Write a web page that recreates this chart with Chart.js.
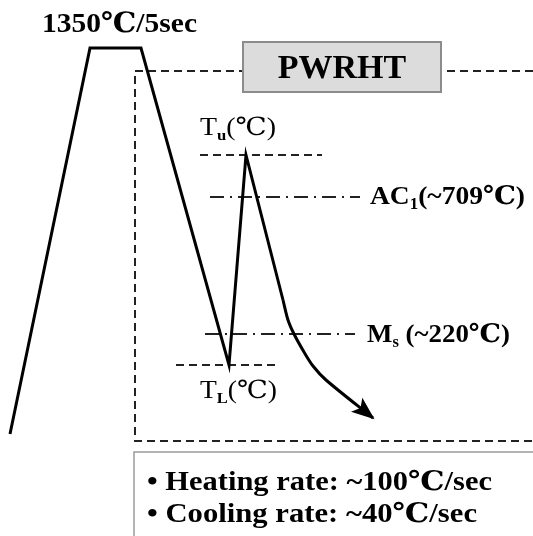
<!DOCTYPE html>
<html>
<head>
<meta charset="utf-8">
<script src="https://cdn.jsdelivr.net/npm/chart.js@4/dist/chart.umd.min.js"></script>
<style>
  html, body { margin: 0; padding: 0; background: #fff; }
  #wrap { width: 533px; height: 536px; }
</style>
</head>
<body>
<div id="wrap"><canvas id="grafico"></canvas></div>
<script>
// schematic thermal cycle, x = time units, y = temperature level units (top = hot)
const cicloX = [10, 90, 141, 229, 246, 283];
const cicloY = [434, 48, 48, 365, 155, 300];

// cooling tail after the peak, ends in an arrow
const caudaX = [283, 288, 294, 304, 313, 326, 373];
const caudaY = [300, 320, 334, 352, 366, 380, 418];

// reference levels
const nivelTu = { x: [200, 322], y: [155, 155] };
const nivelTL = { x: [176, 280], y: [365, 365] };
const nivelAC1 = { x: [210, 360], y: [197, 197] };
const nivelMs = { x: [205, 355], y: [334, 334] };

// PWRHT window outline (dashed)
const janelaX = [533, 135, 135, 533];
const janelaY = [71, 71, 441, 441];

const textoPico = '1350℃/5sec';
const textoPwrht = 'PWRHT';
const taxas = ['• Heating rate: ~100℃/sec', '• Cooling rate: ~40℃/sec'];

const SERIF = '"Liberation Serif", "Times New Roman", "DejaVu Serif", "Noto Sans CJK KR", serif';

const pontos = (xs, ys) => xs.map((x, i) => ({ x, y: ys[i] }));

const linha = (xs, ys, extra) => Object.assign({
  data: pontos(xs, ys),
  showLine: true,
  borderColor: '#000',
  borderWidth: 3,
  pointRadius: 0,
  fill: false,
  tension: 0
}, extra);

const tracejado = { borderWidth: 2, borderDash: [8, 5], borderColor: '#222' };
const tracoPonto = { borderWidth: 2, borderDash: [14, 6, 2, 6], borderColor: '#222' };

// text runs: [texto, tamanho, deslocamento vertical, negrito]; w = largura final
const rotulos = [
  { x: 42, y: 32, w: 155, runs: [[textoPico, 28, 0, true]] },
  { x: 200, y: 135, w: 76, runs: [['T', 25, 0, false], ['u', 15, 5, true], ['(℃)', 25, 0, false]] },
  { x: 200, y: 398, w: 77, runs: [['T', 25, 0, false], ['L', 15, 5, true], ['(℃)', 25, 0, false]] },
  { x: 370, y: 204, w: 155, runs: [['AC', 26, 0, true], ['1', 16, 5, true], ['(~709℃)', 26, 0, true]] },
  { x: 367, y: 342, w: 143, runs: [['M', 26, 0, true], ['s', 16, 5, true], [' (~220℃)', 26, 0, true]] },
  { x: 147, y: 490, w: 345, runs: [[taxas[0], 27, 0, true]] },
  { x: 147, y: 522, w: 330, runs: [[taxas[1], 27, 0, true]] }
];

const escreve = (ctx, x, y, r) => {
  const fonte = ([, tam, , negrito]) => (negrito ? 'bold ' : '') + tam + 'px ' + SERIF;
  let total = 0;
  r.runs.forEach(run => { ctx.font = fonte(run); total += ctx.measureText(run[0]).width; });
  const alvo = x.getPixelForValue(r.x + r.w) - x.getPixelForValue(r.x);
  ctx.save();
  ctx.translate(x.getPixelForValue(r.x), y.getPixelForValue(r.y));
  ctx.scale(alvo / total, 1);
  let px = 0;
  r.runs.forEach(run => {
    ctx.font = fonte(run);
    ctx.fillText(run[0], px, run[2]);
    px += ctx.measureText(run[0]).width;
  });
  ctx.restore();
};

const desenhaTexto = {
  id: 'desenhaTexto',
  afterDatasetsDraw(chart) {
    const { ctx, scales: { x, y } } = chart;
    ctx.save();
    // PWRHT box sits on top of the dashed outline
    const bx = x.getPixelForValue(243), by = y.getPixelForValue(42);
    const bw = x.getPixelForValue(441) - bx, bh = y.getPixelForValue(92) - by;
    ctx.fillStyle = '#dcdcdc';
    ctx.fillRect(bx, by, bw, bh);
    ctx.strokeStyle = '#8c8c8c';
    ctx.lineWidth = 2;
    ctx.strokeRect(bx, by, bw, bh);
    // rates box
    const rx = x.getPixelForValue(134), ry = y.getPixelForValue(452);
    ctx.strokeStyle = '#9a9a9a';
    ctx.lineWidth = 1.5;
    ctx.strokeRect(rx, ry, 540 - rx, 100);

    ctx.fillStyle = '#000';
    ctx.textBaseline = 'alphabetic';
    ctx.font = 'bold 34px ' + SERIF;
    ctx.textAlign = 'center';
    ctx.fillText(textoPwrht, x.getPixelForValue(342), y.getPixelForValue(78));
    ctx.textAlign = 'left';

    rotulos.forEach(r => escreve(ctx, x, y, r));

    // arrow head at the end of the cooling tail
    const meta = chart.getDatasetMeta(1).data;
    const a = meta[meta.length - 2], b = meta[meta.length - 1];
    const ang = Math.atan2(b.y - a.y, b.x - a.x);
    const comp = 21, larg = 9;
    ctx.translate(b.x, b.y);
    ctx.rotate(ang);
    ctx.beginPath();
    ctx.moveTo(2, 0);
    ctx.lineTo(-comp, -larg);
    ctx.lineTo(-comp + 5, 0);
    ctx.lineTo(-comp, larg);
    ctx.closePath();
    ctx.fill();
    ctx.restore();
  }
};

new Chart(document.getElementById('grafico'), {
  type: 'scatter',
  data: {
    datasets: [
      linha(cicloX, cicloY),
      linha(caudaX, caudaY, { tension: 0.3 }),
      linha(janelaX, janelaY, tracejado),
      linha(nivelTu.x, nivelTu.y, tracejado),
      linha(nivelTL.x, nivelTL.y, tracejado),
      linha(nivelAC1.x, nivelAC1.y, tracoPonto),
      linha(nivelMs.x, nivelMs.y, tracoPonto)
    ]
  },
  options: {
    responsive: true,
    maintainAspectRatio: false,
    animation: false,
    layout: { padding: 0 },
    plugins: { legend: { display: false }, tooltip: { enabled: false } },
    scales: {
      x: { type: 'linear', display: false, min: 0, max: 533 },
      y: { type: 'linear', display: false, min: 0, max: 536, reverse: true }
    }
  },
  plugins: [desenhaTexto]
});
</script>
</body>
</html>
